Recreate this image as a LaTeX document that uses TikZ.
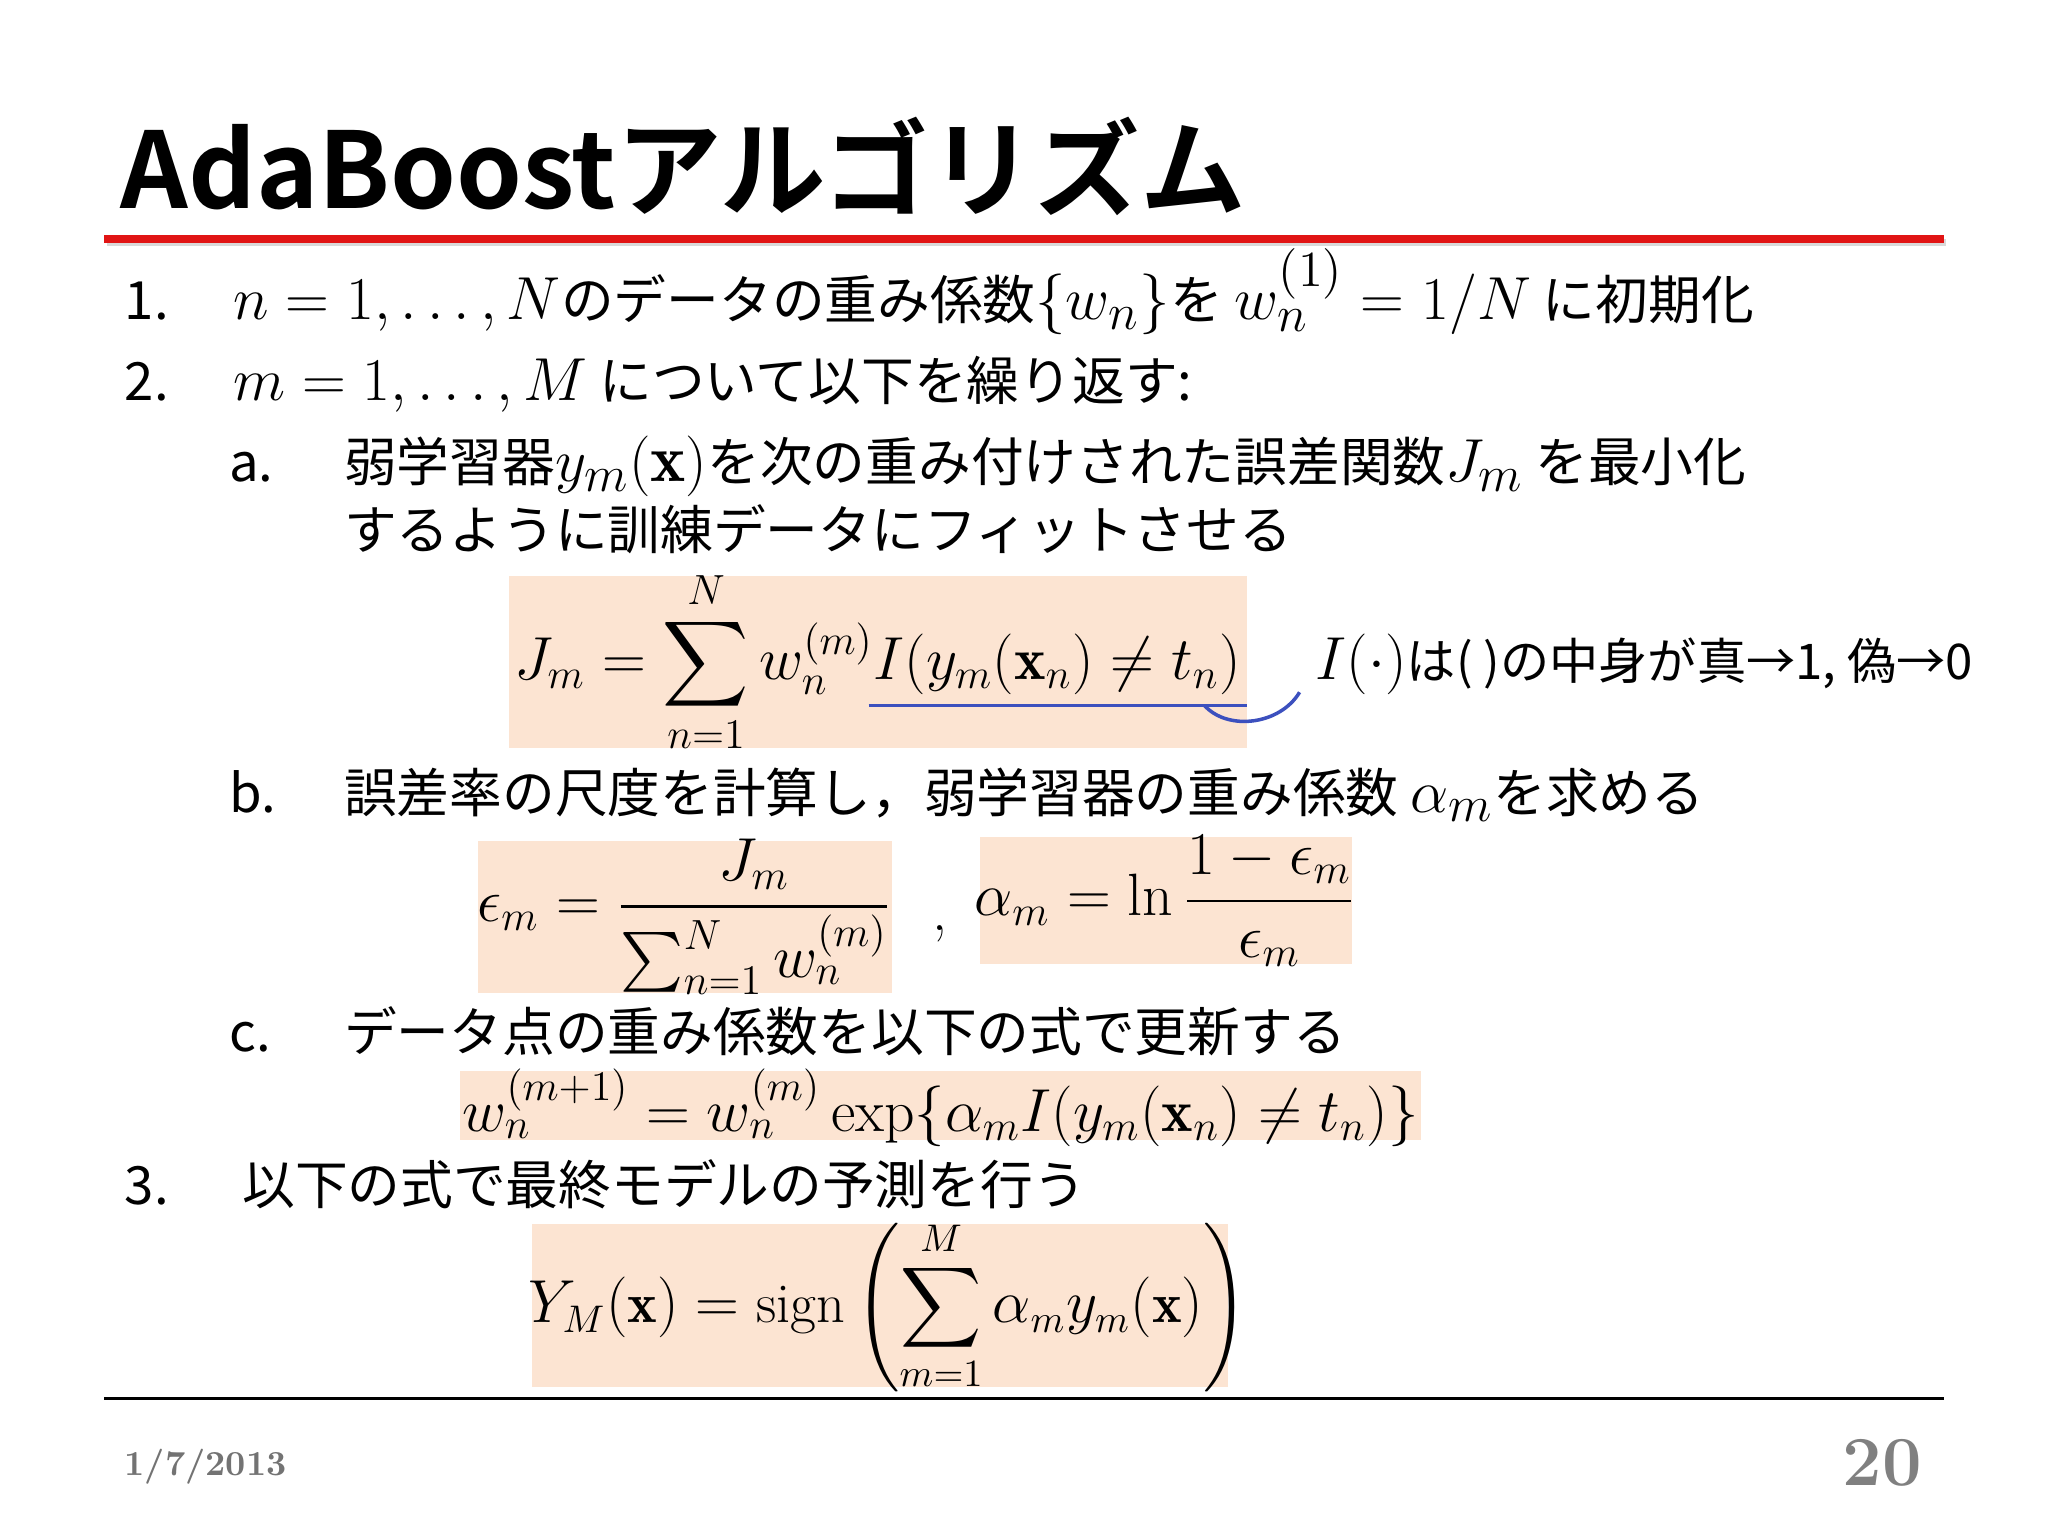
\documentclass[tikz,border=0pt]{standalone}
\usepackage{amsmath,amssymb}
\usepackage{fontspec}
\newfontfamily\jp{Noto Sans CJK JP}
\newfontfamily\jpb{Noto Sans CJK JP Bold}
\definecolor{peach}{RGB}{252,228,210}
\definecolor{ured}{RGB}{225,20,20}
\definecolor{ublue}{RGB}{60,80,190}
\newcommand{\mm}[1]{{\fontsize{19}{22}\selectfont$#1$}}
\begin{document}
\begin{tikzpicture}[x=0.01306cm,y=-0.01306cm,
  txt/.style={anchor=base west,inner sep=0,font=\fontsize{15}{17}\selectfont\jp},
  eq/.style={inner sep=0,font=\fontsize{17}{20}\selectfont}]
\useasboundingbox (0,0) rectangle (1568,1176);
\node[anchor=base west,inner sep=0,font=\fontsize{30}{34}\selectfont\jpb] (title) at (92,160) {AdaBoostアルゴリズム};
\draw[black!15,line width=2pt] (82,186) -- (1490,186);
\draw[ured,line width=2.2pt] (80,183) coordinate (rl) -- (1488,183) coordinate (rr);
\node[txt] (n1) at (95,245) {1.};
\node[txt] (t1) at (178,245) {\mm{n=1,\ldots,N}のデータの重み係数\mm{\{w_n\}}を \mm{w_n^{(1)}=1/N} に初期化};
\node[txt] (n2) at (95,307) {2.};
\node[txt] (t2) at (178,307) {\mm{m=1,\ldots,M} について以下を繰り返す:};
\node[txt] (na) at (175,369) {a.};
\node[txt] (ta) at (263,369) {弱学習器\mm{y_m(\mathbf{x})}を次の重み付けされた誤差関数\mm{J_m} を最小化};
\node[txt] (ta2) at (263,421) {するように訓練データにフィットさせる};
\fill[peach] (390,441) rectangle (955,573);
\node[eq] (eqJ) at (672,507) {$\displaystyle J_m=\sum_{n=1}^{N} w_n^{(m)} I(y_m(\mathbf{x}_n)\neq t_n)$};
\draw[ublue,line width=1pt] (665,540) -- (955,540);
\draw[ublue,line width=1pt] (922,540) .. controls (940,560) and (980,555) .. (995,530);
\node[txt,font=\fontsize{14}{16}\selectfont\jp] (lbl) at (1007,520) {{\fontsize{16}{18}\selectfont$I(\cdot)$}は( )の中身が真→1, 偽→0};
\node[txt] (nb) at (175,622) {b.};
\node[txt] (tb) at (263,622) {誤差率の尺度を計算し，弱学習器の重み係数 \mm{\alpha_m}を求める};
\fill[peach] (366,644) rectangle (683,760);
\node[eq] (eqe) at (524,702) {$\displaystyle \epsilon_m=\frac{J_m}{\sum_{n=1}^{N} w_n^{(m)}}$};
\node[eq] (cm) at (720,715) {,};
\fill[peach] (750,641) rectangle (1035,738);
\node[eq] (eqa) at (892,690) {$\displaystyle \alpha_m=\ln\frac{1-\epsilon_m}{\epsilon_m}$};
\node[txt] (nc) at (175,805) {c.};
\node[txt] (tc) at (263,805) {データ点の重み係数を以下の式で更新する};
\fill[peach] (352,820) rectangle (1088,873);
\node[eq] (eqw) at (720,848) {$w_n^{(m+1)}=w_n^{(m)}\exp\{\alpha_m I(y_m(\mathbf{x}_n)\neq t_n)\}$};
\node[txt] (n3) at (95,922) {3.};
\node[txt] (t3) at (185,922) {以下の式で最終モデルの予測を行う};
\fill[peach] (407,937) rectangle (940,1062);
\node[eq,font=\fontsize{16}{19}\selectfont] (eqY) at (680,1000) {$\displaystyle Y_M(\mathbf{x})=\operatorname{sign}\left(\sum_{m=1}^{M}\alpha_m y_m(\mathbf{x})\right)$};
\draw[line width=0.8pt] (80,1071) coordinate (bl) -- (1488,1071) coordinate (br);
\node[anchor=base west,inner sep=0,text=black!55,font=\fontsize{10}{12}\selectfont\bfseries] (date) at (95,1130) {1/7/2013};
\node[anchor=base east,inner sep=0,text=black!50,font=\fontsize{20}{22}\selectfont\bfseries] (pg) at (1472,1137) {20};
\end{tikzpicture}
\end{document}
